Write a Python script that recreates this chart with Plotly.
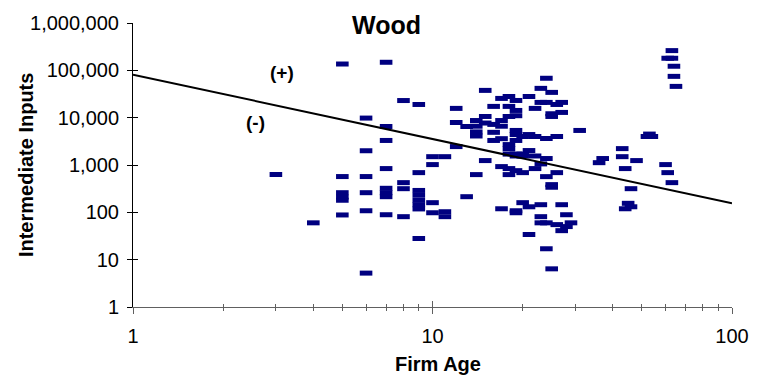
import plotly.graph_objects as go

# ---- data (firm age in years, intermediate inputs) ----
age = [
    3,
    4,
    5, 5, 5, 5, 5, 5,
    6, 6, 6, 6, 6, 6,
    7, 7, 7, 7, 7, 7, 7, 7,
    8, 8, 8, 8,
    9, 9, 9, 9, 9, 9, 9, 9,
    10, 10, 10, 10,
    11, 11, 11,
    12, 12, 12,
    13, 13,
    14, 14, 14, 14, 14,
    15, 15, 15, 15,
    16, 16, 16, 16,
    17, 17, 17, 17, 17, 17,
    18, 18, 18, 18, 18, 18, 18, 18,
    19, 19, 19, 19, 19, 19, 19, 19, 19, 19, 19,
    20, 20, 20, 20, 20,
    21, 21, 21, 21, 21,
    22, 22, 22, 22,
    23, 23, 23, 23, 23, 23,
    24, 24, 24, 24, 24, 24, 24,
    25, 25, 25, 25, 25, 25,
    26, 26, 26, 26,
    27, 27, 27, 27,
    28, 28,
    29,
    31,
    36,
    37,
    43, 43,
    44, 44,
    45,
    46, 46,
    48,
    52, 53, 54,
    60,
    61, 61,
    63, 63, 63,
    64, 64,
    65,
]

intermediate_inputs = [
    630,
    60,
    136000, 570, 260, 210, 180, 88,
    9800, 2000, 570, 260, 108, 5.2,
    148000, 6500, 3300, 840, 322, 260, 214, 89,
    23000, 424, 316, 81,
    19000, 690, 290, 230, 180, 145, 118, 28,
    1500, 1020, 160, 98,
    1500, 103, 81,
    15700, 7900, 2450,
    6500, 214,
    8700, 6600, 5000, 4100, 627,
    37700, 10600, 7700, 1240,
    17300, 7200, 4900, 3300,
    25500, 8700, 6600, 3600, 925, 119,
    28000, 17300, 10600, 2700, 2200, 1700, 840, 627,
    23100, 14200, 11000, 5370, 4400, 3300, 1700, 1550, 760, 108, 98,
    4000, 1700, 1550, 690, 160,
    28000, 4400, 2020, 131, 34,
    15700, 4000, 1550, 840,
    41600, 21000, 1055, 145, 81, 60,
    68000, 21000, 3630, 1370, 568, 60, 17,
    34200, 12100, 10600, 385, 339, 6.4,
    19000, 4000, 690, 55,
    21000, 12900, 145, 41,
    89, 50,
    60,
    5370,
    1120,
    1370,
    2220, 1500,
    840, 119,
    155,
    316, 131,
    1240,
    4000, 4500, 4000,
    1020,
    690, 180000,
    261000, 180000, 424,
    122000, 74600,
    45800,
]

# fitted trend line end points
trend_age = [1, 100]
trend_inputs = [81000, 155]

x_major = [1, 10, 100]
x_major_text = ["1", "10", "100"]
x_minor = [2, 3, 4, 5, 6, 7, 8, 9, 20, 30, 40, 50, 60, 70, 80, 90]
y_major = [1, 10, 100, 1000, 10000, 100000, 1000000]
y_major_text = ["1", "10", "100", "1,000", "10,000", "100,000", "1,000,000"]

FONT = "Liberation Sans, Arial, sans-serif"
NAVY = "#000080"
AXGRAY = "#606060"

fig = go.Figure()
fig.add_trace(go.Scatter(
    x=age, y=intermediate_inputs, mode="markers",
    marker=dict(symbol="line-ew", size=9, color=NAVY,
                line=dict(width=5, color=NAVY)),
    showlegend=False, hoverinfo="x+y"))
fig.add_trace(go.Scatter(
    x=trend_age, y=trend_inputs, mode="lines",
    line=dict(color="black", width=2), showlegend=False, hoverinfo="skip"))
# empty trace carrying the overlay axes (used for the inner half of cross ticks)
fig.add_trace(go.Scatter(x=[], y=[], xaxis="x2", yaxis="y2",
                         showlegend=False, hoverinfo="skip"))

fig.update_layout(
    width=761, height=378,
    margin=dict(l=133, r=21, t=23, b=71),
    paper_bgcolor="white", plot_bgcolor="white",
    font=dict(family=FONT, color="black"),
    xaxis=dict(
        type="log", range=[0, 2],
        tickvals=x_major, ticktext=x_major_text,
        ticks="outside", ticklen=6, tickwidth=1, tickcolor=AXGRAY,
        minor=dict(tickvals=x_minor, ticks="outside", ticklen=3,
                   tickwidth=1, tickcolor=AXGRAY, showgrid=False),
        showline=True, linecolor=AXGRAY, linewidth=1,
        showgrid=False, zeroline=False,
        tickfont=dict(family=FONT, size=20, color="black"),
        ticklabelstandoff=5,
    ),
    yaxis=dict(
        type="log", range=[0, 6],
        tickvals=y_major, ticktext=y_major_text,
        ticks="outside", ticklen=5, tickwidth=1, tickcolor="black",
        showline=True, linecolor="black", linewidth=1,
        showgrid=False, zeroline=False,
        tickfont=dict(family=FONT, size=20, color="black"),
        ticklabelstandoff=4,
    ),
    xaxis2=dict(
        type="log", range=[0, 2], overlaying="x", anchor="y2",
        tickvals=x_major, ticks="inside", ticklen=6, tickwidth=1,
        tickcolor=AXGRAY,
        minor=dict(tickvals=x_minor, ticks="inside", ticklen=3,
                   tickwidth=1, tickcolor=AXGRAY, showgrid=False),
        showticklabels=False, showline=False, showgrid=False, zeroline=False,
    ),
    yaxis2=dict(
        type="log", range=[0, 6], overlaying="y", anchor="x2",
        tickvals=y_major, ticks="inside", ticklen=5, tickwidth=1,
        tickcolor="black",
        showticklabels=False, showline=False, showgrid=False, zeroline=False,
    ),
    annotations=[
        dict(text="<b>Wood</b>", xref="paper", yref="paper",
             x=0.423, y=0.994, xanchor="center", yanchor="middle",
             showarrow=False, font=dict(family=FONT, size=25, color="black")),
        dict(text="<b>Firm Age</b>", xref="paper", yref="paper",
             x=0.51, y=-0.199, xanchor="center", yanchor="middle",
             showarrow=False, font=dict(family=FONT, size=20, color="black")),
        dict(text="<b>Intermediate Inputs</b>", xref="paper", yref="paper",
             x=-0.1785, y=0.5, xanchor="center", yanchor="middle",
             textangle=-90, showarrow=False,
             font=dict(family=FONT, size=20, color="black")),
        dict(text="<b>(+)</b>", xref="x", yref="y",
             x=0.497, y=4.95, xanchor="center", yanchor="middle",
             showarrow=False, font=dict(family=FONT, size=19, color="black")),
        dict(text="<b>(-)</b>", xref="x", yref="y",
             x=0.408, y=3.89, xanchor="center", yanchor="middle",
             showarrow=False, font=dict(family=FONT, size=19, color="black")),
    ],
)

fig.write_html("out.html")
